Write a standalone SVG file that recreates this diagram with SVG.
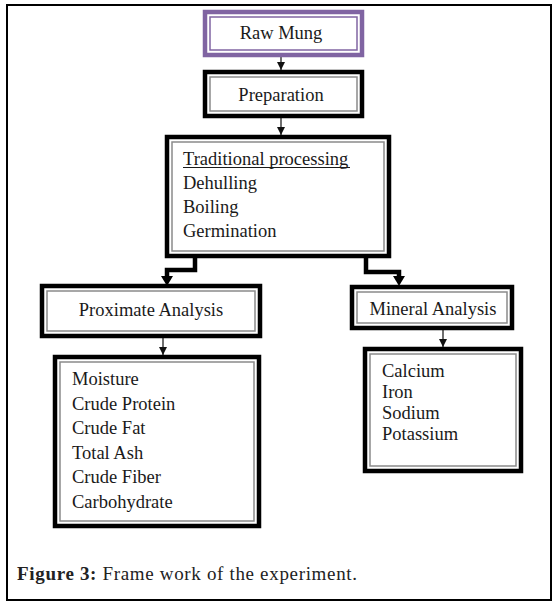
<svg xmlns="http://www.w3.org/2000/svg" width="560" height="606" viewBox="0 0 560 606">
<style>
.frame{fill:#fff;stroke:#000;stroke-width:2}
.outer{fill:#fff;stroke:#000;stroke-width:4.5}
.inner{fill:none;stroke:#8a8a8a;stroke-width:1.5}
.pout{fill:#fff;stroke:#8064A2;stroke-width:4.5}
.pin{fill:none;stroke:#8064A2;stroke-width:1.5}
.t{font-family:"Liberation Serif","Times New Roman",serif;font-size:18.5px;fill:#1a1a1a}
.c{text-anchor:middle}
.thin{fill:none;stroke:#222;stroke-width:1.3}
.thick{fill:none;stroke:#000;stroke-width:4.5}
.head{fill:#000}
.cap{font-family:"Liberation Serif","Times New Roman",serif;font-size:19px;fill:#222}
</style>
<defs>
<marker id="ah" markerUnits="userSpaceOnUse" markerWidth="10" markerHeight="10" refX="8" refY="4" orient="auto">
<path d="M0,0 L8,4 L0,8 Z" fill="#111"/>
</marker>
</defs>
<rect class="frame" x="7" y="5" width="544" height="595"/>
<g id="connectors">
<line class="thin" x1="281" y1="57" x2="281" y2="70" marker-end="url(#ah)"/>
<line class="thin" x1="281" y1="118" x2="281" y2="135" marker-end="url(#ah)"/>
<path class="thick" d="M195,258 V270 H167 V277"/>
<polygon class="head" points="161,276 173,276 167,286"/>
<path class="thick" d="M366,258 V272 H399 V277"/>
<polygon class="head" points="393,276 405,276 399,286"/>
<line class="thin" x1="163" y1="338" x2="163" y2="355" marker-end="url(#ah)"/>
<line class="thin" x1="443" y1="330" x2="443" y2="347" marker-end="url(#ah)"/>
</g>
<g id="raw-mung">
<rect class="pout" x="205" y="12" width="157" height="43"/>
<rect class="pin" x="210" y="17" width="147" height="33"/>
<text class="t c" x="281" y="39">Raw Mung</text>
</g>
<g id="preparation">
<rect class="outer" x="205" y="72" width="157" height="44"/>
<rect class="inner" x="210" y="77" width="147" height="34"/>
<text class="t c" x="281" y="101">Preparation</text>
</g>
<g id="traditional">
<rect class="outer" x="167" y="137" width="222" height="119"/>
<rect class="inner" x="172" y="142" width="212" height="109"/>
<text class="t" x="183" y="165">Traditional processing</text>
<line x1="183" y1="167.5" x2="350" y2="167.5" stroke="#1a1a1a" stroke-width="1"/>
<text class="t" x="183" y="189">Dehulling</text>
<text class="t" x="183" y="213">Boiling</text>
<text class="t" x="183" y="237">Germination</text>
</g>
<g id="proximate">
<rect class="outer" x="42" y="286" width="218" height="50"/>
<rect class="inner" x="47" y="291" width="208" height="40"/>
<text class="t c" x="151" y="316">Proximate Analysis</text>
</g>
<g id="mineral">
<rect class="outer" x="352" y="287" width="160" height="41"/>
<rect class="inner" x="357" y="292" width="150" height="31"/>
<text class="t c" x="433" y="315">Mineral Analysis</text>
</g>
<g id="proximate-list">
<rect class="outer" x="55" y="357" width="204" height="169"/>
<rect class="inner" x="60" y="362" width="194" height="159"/>
<text class="t" x="72" y="385">Moisture</text>
<text class="t" x="72" y="409.5">Crude Protein</text>
<text class="t" x="72" y="434">Crude Fat</text>
<text class="t" x="72" y="458.5">Total Ash</text>
<text class="t" x="72" y="483">Crude Fiber</text>
<text class="t" x="72" y="507.5">Carbohydrate</text>
</g>
<g id="mineral-list">
<rect class="outer" x="365" y="349" width="156" height="122"/>
<rect class="inner" x="370" y="354" width="146" height="112"/>
<text class="t" x="382" y="377">Calcium</text>
<text class="t" x="382" y="398">Iron</text>
<text class="t" x="382" y="419">Sodium</text>
<text class="t" x="382" y="440">Potassium</text>
</g>
<text class="cap" x="17" y="580" textLength="340" lengthAdjust="spacing"><tspan font-weight="bold">Figure 3:</tspan> Frame work of the experiment.</text>
</svg>
